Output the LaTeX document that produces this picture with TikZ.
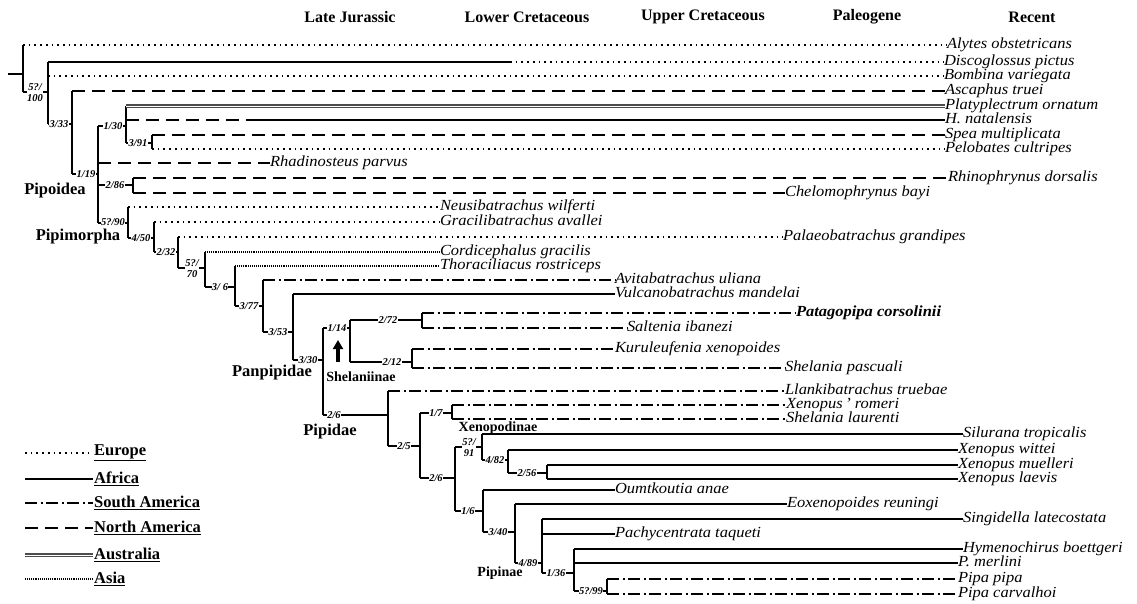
\documentclass[tikz,border=0pt]{standalone}
\usepackage{fontspec}
\setmainfont{Liberation Serif}
\newfontfamily\taxafam{Liberation Serif}[FakeStretch=1.07]
\usetikzlibrary{arrows.meta}

\tikzset{
  europe/.style={line width=1.7pt, dash pattern=on 1.7pt off 4pt},
  africa/.style={line width=2pt},
  samerica/.style={line width=2pt, dash pattern=on 12pt off 3.5pt on 2pt off 3.5pt},
  namerica/.style={line width=2.2pt, dash pattern=on 13pt off 7pt},
  austr/.style={line width=1.1pt, draw=black!70, double=white, double distance=0.9pt},
  asia/.style={line width=1.3pt, dash pattern=on 1pt off 0.9pt},
  vbar/.style={line width=2.4pt},
  taxon/.style={anchor=west, inner sep=0pt, outer sep=0pt, text height=8.5pt, text depth=2.2pt, font=\taxafam\fontsize{15.4}{17}\selectfont\itshape},
  supp/.style={fill=white, inner sep=0.4pt, align=center, font=\fontsize{10.5}{11}\selectfont\bfseries\itshape},
  clade/.style={inner sep=0pt, font=\fontsize{16.5}{18}\selectfont\bfseries},
  subclade/.style={inner sep=0pt, font=\fontsize{14}{15}\selectfont\bfseries},
  period/.style={font=\fontsize{16}{18}\selectfont\bfseries},
  region/.style={anchor=west, inner sep=1pt, font=\fontsize{16.5}{18}\selectfont\bfseries},
}

\begin{document}
\begin{tikzpicture}[x=1pt, y=-1pt]
  \useasboundingbox (0,0) rectangle (1137,603);

  % Time periods
  \node[period] (lj) at (350,17) {Late Jurassic};
  \node[period] (lc) at (527,17) {Lower Cretaceous};
  \node[period] (uc) at (703,17) {Upper Cretaceous};
  \node[period] (pg) at (867,17) {Paleogene};
  \node[period] (rc) at (1032,17) {Recent};

  % Outgroups
  \node[taxon] (alytes) at (947,45) {Alytes obstetricans};
  \node[taxon] (discog) at (944,62) {Discoglossus pictus};
  \node[taxon] (bombina) at (944,76) {Bombina variegata};
  \node[taxon] (ascaph) at (945,91) {Ascaphus truei};
  \node[taxon] (platy) at (945,106) {Platyplectrum ornatum};
  \node[taxon] (hnat) at (945,120) {H. natalensis};
  \node[taxon] (spea) at (945,135) {Spea multiplicata};
  \node[taxon] (pelob) at (945,149) {Pelobates cultripes};
  \node[taxon] (rhadin) at (270,163) {Rhadinosteus parvus};
  \node[taxon] (rhino) at (948,178) {Rhinophrynus dorsalis};
  \node[taxon] (chelom) at (785,193) {Chelomophrynus bayi};

  \draw[vbar] (8,74) -- (23,74);
  \draw[vbar] (23,45) -- (23,92);
  \draw[europe] (23,45) -- (alytes.west);
  \draw[africa] (23,92) -- (48,92);
  \node[supp] (s100) at (35,93) {5?/\\100};
  \draw[vbar] (48,62) -- (48,124);
  \draw[africa] (48,62) -- (510,62);
  \draw[europe] (510,62) -- (discog.west);
  \draw[europe] (48,76) -- (bombina.west);
  \draw[africa] (48,124) -- (72,124);
  \node[supp] (s333) at (59,124) {3/33};
  \draw[vbar] (72,91) -- (72,174);
  \draw[namerica] (72,91) -- (ascaph.west);
  \draw[africa] (72,174) -- (98,174);
  \node[supp] (s119) at (86,174) {1/19};
  \draw[vbar] (98,126) -- (98,223);
  \draw[africa] (98,126) -- (126,126);
  \node[supp] (s130) at (113,126) {1/30};
  \draw[vbar] (126,106) -- (126,143);
  \draw[austr] (126,106) -- (platy.west);
  \draw[namerica] (126,120) -- (258,120);
  \draw[africa] (258,120) -- (hnat.west);
  \draw[africa] (126,143) -- (152,143);
  \node[supp] (s391) at (138,143) {3/91};
  \draw[vbar] (152,135) -- (152,149);
  \draw[namerica] (152,135) -- (spea.west);
  \draw[europe] (152,149) -- (pelob.west);
  \draw[namerica] (98,163) -- (rhadin.west);
  \draw[africa] (98,185) -- (133,185);
  \node[supp] (s286) at (115,185) {2/86};
  \draw[vbar] (133,178) -- (133,193);
  \draw[namerica] (133,178) -- (rhino.west);
  \draw[namerica] (133,193) -- (chelom.west);

  % Pipimorpha
  \node[taxon] (neusi) at (440,207) {Neusibatrachus wilferti};
  \node[taxon] (gracil) at (440,222) {Gracilibatrachus avallei};
  \node[taxon] (palaeo) at (783,237) {Palaeobatrachus grandipes};
  \node[taxon] (cordi) at (440,252) {Cordicephalus gracilis};
  \node[taxon] (thorac) at (440,266) {Thoraciliacus rostriceps};
  \node[taxon] (avita) at (615,280) {Avitabatrachus uliana};
  \node[taxon] (vulcano) at (615,294) {Vulcanobatrachus mandelai};

  \draw[africa] (98,223) -- (128,223);
  \node[supp] (s590) at (113,222) {5?/90};
  \draw[vbar] (128,207) -- (128,238);
  \draw[europe] (128,207) -- (neusi.west);
  \draw[africa] (128,238) -- (154,238);
  \node[supp] (s450) at (141,238) {4/50};
  \draw[vbar] (154,222) -- (154,252);
  \draw[europe] (154,222) -- (gracil.west);
  \draw[africa] (154,252) -- (178,252);
  \node[supp] (s232) at (166,252) {2/32};
  \draw[vbar] (178,237) -- (178,268);
  \draw[europe] (178,237) -- (palaeo.west);
  \draw[africa] (178,268) -- (205,268);
  \node[supp] (s570) at (192,269) {5?/\\70};
  \draw[vbar] (205,252) -- (205,287);
  \draw[asia] (205,252) -- (cordi.west);
  \draw[africa] (205,287) -- (235,287);
  \node[supp] (s306) at (220,287) {3/\ 6};
  \draw[vbar] (235,266) -- (235,306);
  \draw[asia] (235,266) -- (thorac.west);
  \draw[africa] (235,306) -- (263,306);
  \node[supp] (s377) at (249,306) {3/77};
  \draw[vbar] (263,280) -- (263,332);
  \draw[samerica] (263,280) -- (avita.west);
  \draw[africa] (263,332) -- (293,332);
  \node[supp] (s353) at (278,332) {3/53};
  \draw[vbar] (293,294) -- (293,360);
  \draw[africa] (293,294) -- (vulcano.west);
  \draw[africa] (293,360) -- (323,360);
  \node[supp] (s330) at (308,360) {3/30};

  % Shelaniinae
  \node[taxon, font=\taxafam\fontsize{15.4}{17}\selectfont\bfseries\itshape] (patago) at (796,313) {Patagopipa corsolinii};
  \node[taxon] (salten) at (627,328) {Saltenia ibanezi};
  \node[taxon] (kurul) at (615,349) {Kuruleufenia xenopoides};
  \node[taxon] (shelp) at (785,368) {Shelania pascuali};

  \draw[vbar] (323,328) -- (323,415);
  \draw[africa] (323,328) -- (350,328);
  \node[supp] (s114) at (337,328) {1/14};
  \draw[vbar] (350,320) -- (350,362);
  \draw[africa] (350,320) -- (422,320);
  \node[supp] (s272) at (388,320) {2/72};
  \draw[vbar] (422,313) -- (422,328);
  \draw[samerica] (422,313) -- (patago.west);
  \draw[samerica] (422,328) -- (salten.west);
  \draw[africa] (350,362) -- (412,362);
  \node[supp] (s212) at (392,362) {2/12};
  \draw[vbar] (412,349) -- (412,368);
  \draw[samerica] (412,349) -- (kurul.west);
  \draw[samerica] (412,368) -- (shelp.west);
  \coordinate (tail) at (338,362);
  \draw[-{Triangle[width=10pt,length=9pt]}, line width=3.5pt] (tail) -- ++(0,-22);

  % Pipidae
  \node[taxon] (llanki) at (785,391) {Llankibatrachus truebae};
  \node[taxon] (xrom) at (786,405) {Xenopus\,\textquoteright\ romeri};
  \node[taxon] (shell) at (786,419) {Shelania laurenti};
  \node[taxon] (silur) at (963,434) {Silurana tropicalis};
  \node[taxon] (xwit) at (958,450) {Xenopus wittei};
  \node[taxon] (xmue) at (958,465) {Xenopus muelleri};
  \node[taxon] (xlae) at (958,479) {Xenopus laevis};
  \node[taxon] (oumt) at (615,490) {Oumtkoutia anae};
  \node[taxon] (eoxen) at (787,504) {Eoxenopoides reuningi};
  \node[taxon] (singi) at (963,519) {Singidella latecostata};
  \node[taxon] (pachy) at (615,534) {Pachycentrata taqueti};
  \node[taxon] (hymen) at (963,549) {Hymenochirus boettgeri};
  \node[taxon] (pmerl) at (958,563) {P. merlini};
  \node[taxon] (ppipa) at (958,579) {Pipa pipa};
  \node[taxon] (pcarv) at (958,594) {Pipa carvalhoi};

  \draw[africa] (323,415) -- (388,415);
  \node[supp] (s26a) at (334,415) {2/6};
  \draw[vbar] (388,391) -- (388,446);
  \draw[samerica] (388,391) -- (llanki.west);
  \draw[africa] (388,446) -- (420,446);
  \node[supp] (s25) at (404,446) {2/5};
  \draw[vbar] (420,413) -- (420,478);
  \draw[africa] (420,413) -- (452,413);
  \node[supp] (s17) at (436,413) {1/7};
  \draw[vbar] (452,405) -- (452,419);
  \draw[samerica] (452,405) -- (xrom.west);
  \draw[samerica] (452,419) -- (shell.west);
  \draw[africa] (420,478) -- (455,478);
  \node[supp] (s26b) at (436,478) {2/6};
  \draw[vbar] (455,447) -- (455,511);
  \draw[africa] (455,447) -- (482,447);
  \node[supp] (s591) at (469,448) {5?/\\91};
  \draw[vbar] (482,434) -- (482,460);
  \draw[africa] (482,434) -- (silur.west);
  \draw[africa] (482,460) -- (508,460);
  \node[supp] (s482) at (495,460) {4/82};
  \draw[vbar] (508,450) -- (508,473);
  \draw[africa] (508,450) -- (xwit.west);
  \draw[africa] (508,473) -- (547,473);
  \node[supp] (s256) at (527,473) {2/56};
  \draw[vbar] (547,465) -- (547,479);
  \draw[africa] (547,465) -- (xmue.west);
  \draw[africa] (547,479) -- (xlae.west);
  \draw[africa] (455,511) -- (483,511);
  \node[supp] (s16) at (468,511) {1/6};
  \draw[vbar] (483,490) -- (483,532);
  \draw[africa] (483,490) -- (oumt.west);
  \draw[africa] (483,532) -- (515,532);
  \node[supp] (s340) at (498,532) {3/40};
  \draw[vbar] (515,504) -- (515,563);
  \draw[africa] (515,504) -- (eoxen.west);
  \draw[africa] (515,563) -- (542,563);
  \node[supp] (s489) at (528,563) {4/89};
  \draw[vbar] (542,519) -- (542,573);
  \draw[africa] (542,519) -- (singi.west);
  \draw[africa] (542,534) -- (pachy.west);
  \draw[africa] (542,573) -- (574,573);
  \node[supp] (s136) at (556,573) {1/36};
  \draw[vbar] (574,549) -- (574,591);
  \draw[africa] (574,549) -- (hymen.west);
  \draw[africa] (574,563) -- (pmerl.west);
  \draw[africa] (574,591) -- (607,591);
  \node[supp] (s599) at (591,591) {5?/99};
  \draw[vbar] (607,579) -- (607,594);
  \draw[samerica] (607,579) -- (ppipa.west);
  \draw[samerica] (607,594) -- (pcarv.west);

  % Clade names
  \node[clade] (pipoidea) at (55,191) {Pipoidea};
  \node[clade] (pipimorpha) at (78,237) {Pipimorpha};
  \node[clade] (panpip) at (272,373) {Panpipidae};
  \node[clade] (pipidae) at (330,432) {Pipidae};
  \node[subclade] (shelan) at (361,377) {Shelaniinae};
  \node[subclade] (xenopod) at (498,428) {Xenopodinae};
  \node[subclade] (pipinae) at (500,573) {Pipinae};

  % Legend
  \node[region] (leu) at (93,453) {\underline{Europe}};
  \node[region] (laf) at (93,479) {\underline{Africa}};
  \node[region] (lsa) at (93,503) {\underline{South America}};
  \node[region] (lna) at (93,528) {\underline{North America}};
  \node[region] (lau) at (93,555) {\underline{Australia}};
  \node[region] (las) at (93,579) {\underline{Asia}};
  \draw[europe] (25,453) -- (leu.west);
  \draw[africa] (25,479) -- (laf.west);
  \draw[samerica] (25,503) -- (lsa.west);
  \draw[namerica] (25,528) -- (lna.west);
  \draw[austr] (25,555) -- (lau.west);
  \draw[asia] (25,579) -- (las.west);
\end{tikzpicture}
\end{document}
